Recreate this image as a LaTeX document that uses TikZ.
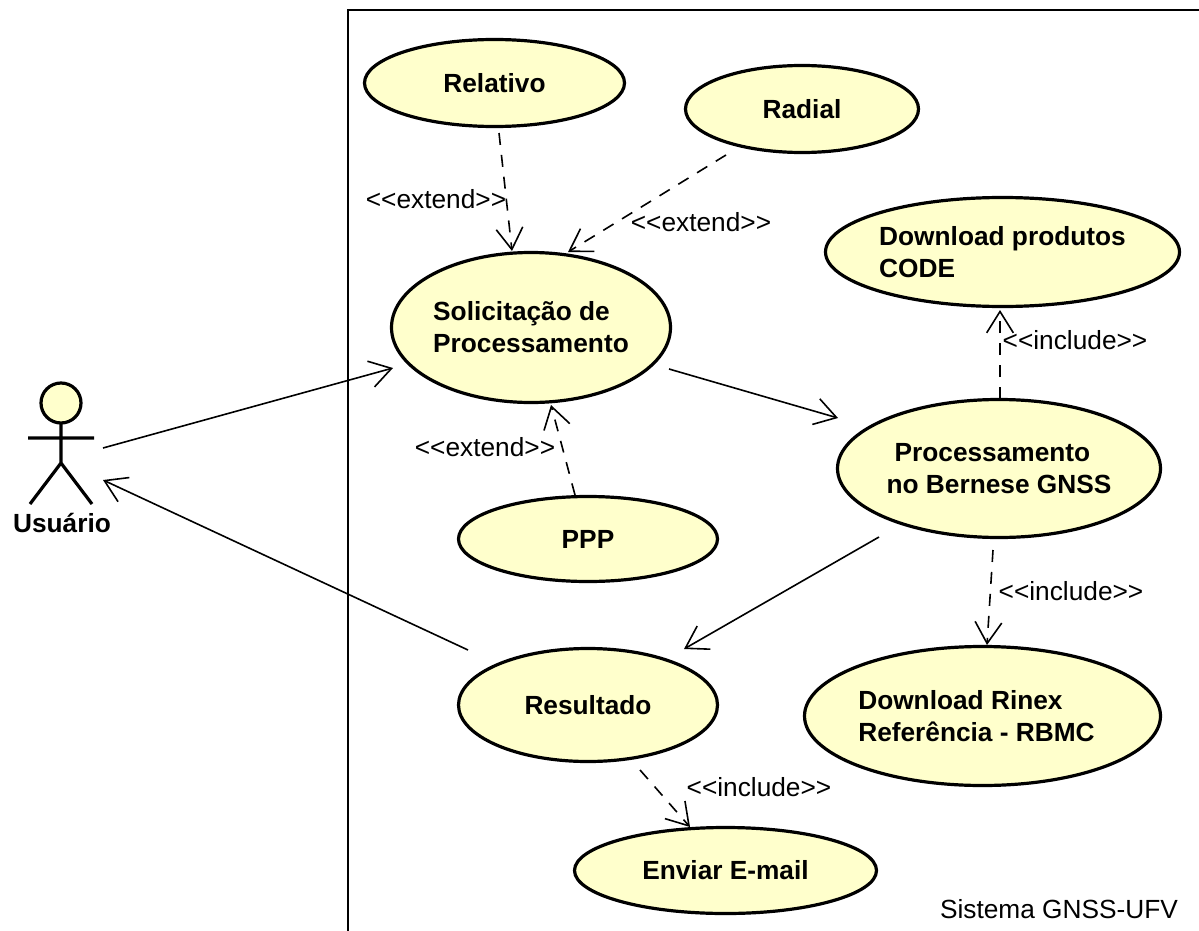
\documentclass[tikz,border=0pt]{standalone}
\usepackage{fontspec}
\setmainfont{Liberation Sans}
\usetikzlibrary{shapes.geometric,arrows.meta}
\definecolor{uc}{RGB}{255,255,204}
\tikzset{
  x=0.75pt,y=-0.75pt,
  uc/.style={draw=black,line width=2.4pt,fill=uc,ellipse,inner sep=0pt,font=\bfseries\fontsize{19.7}{24}\selectfont,align=left},
  flow/.style={draw=black,line width=1.2pt,-{Straight Barb[length=16pt,width=20pt,line width=1.2pt]}},
  dep/.style={flow,dash pattern=on 9pt off 7.5pt},
  lab/.style={font=\fontsize{19.7}{24}\selectfont,inner sep=0pt},
}
\begin{document}
\begin{tikzpicture}
\useasboundingbox (0,0) rectangle (1199,931);
\fill[white] (0,0) rectangle (1199,931);
\draw[line width=1.6pt] (348,931) -- (348,10) -- (1199,10);
\node[uc,minimum width=260pt*0.75,minimum height=87pt*0.75] (rel) at (494.5,83) {Relativo};
\node[uc,minimum width=233pt*0.75,minimum height=87pt*0.75] (rad) at (802,109) {Radial};
\node[uc,minimum width=279pt*0.75,minimum height=150pt*0.75] (sol) at (531,327.5) {Solicitação de\\Processamento};
\node[uc,minimum width=354pt*0.75,minimum height=109pt*0.75] (code) at (1002.5,252) {Download produtos\\CODE};
\node[uc,minimum width=323pt*0.75,minimum height=138pt*0.75] (proc) at (999,468.5) {\hspace*{6pt}Processamento\\no Bernese GNSS};
\node[uc,minimum width=259pt*0.75,minimum height=85pt*0.75] (ppp) at (588,539) {PPP};
\node[uc,minimum width=259pt*0.75,minimum height=113pt*0.75] (res) at (588,705) {Resultado};
\node[uc,minimum width=356pt*0.75,minimum height=139pt*0.75] (rin) at (982.5,716) {Download Rinex\hspace*{9pt}\\Referência - RBMC\hspace*{9pt}};
\node[uc,minimum width=302pt*0.75,minimum height=86pt*0.75] (mail) at (725.5,870.5) {Enviar E-mail};
% actor
\coordinate (actorR) at (103,448);
\coordinate (actorA) at (103,480);
\draw[line width=2.4pt,fill=uc] (61,403) circle [radius=15pt];
\draw[line width=2.4pt] (61,423) -- (61,463) (28,438) -- (94,438) (30,504) -- (61,463) -- (92,504);
\node[font=\bfseries\fontsize{19.7}{24}\selectfont,inner sep=0pt] (usr) at (62,523) {Usuário};
\coordinate (a1) at (499,133); \coordinate (a2) at (512,251);
\coordinate (b1) at (726,155); \coordinate (b2) at (568,252);
\coordinate (c1) at (575,495); \coordinate (c2) at (551,405);
\coordinate (d1) at (1000,399); \coordinate (d2) at (1000,310);
\coordinate (e1) at (993,550); \coordinate (e2) at (987,645);
\coordinate (f1) at (879,537); \coordinate (f2) at (684,649);
\coordinate (g1) at (669,369); \coordinate (g2) at (838,418);
\coordinate (h1) at (640,770); \coordinate (h2) at (690,827);
\coordinate (i1) at (468,650);
\coordinate (j2) at (393,368);
\draw[flow] (actorR) -- (j2);
\draw[flow] (g1) -- (g2);
\draw[flow] (f1) -- (f2);
\draw[flow] (i1) -- (actorA);
\draw[dep] (a1) -- (a2);
\draw[dep] (b1) -- (b2);
\draw[dep] (c1) -- (c2);
\draw[dep] (d1) -- (d2);
\draw[dep] (e1) -- (e2);
\draw[dep] (h1) -- (h2);
\node[lab] (l1) at (436,199) {<{}<extend>{}>};
\node[lab] (l2) at (701,222) {<{}<extend>{}>};
\node[lab] (l3) at (485,447) {<{}<extend>{}>};
\node[lab] (l4) at (1075,340) {<{}<include>{}>};
\node[lab] (l5) at (1071,591) {<{}<include>{}>};
\node[lab] (l6) at (759,787) {<{}<include>{}>};
\node[lab] (sys) at (1059,909) {Sistema GNSS-UFV};
\end{tikzpicture}
\end{document}
